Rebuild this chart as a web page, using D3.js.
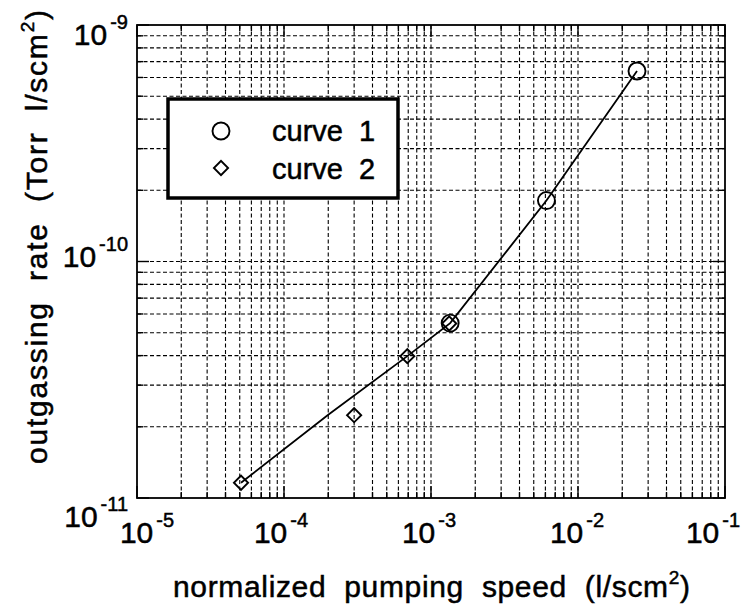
<!DOCTYPE html>
<html>
<head>
<meta charset="utf-8">
<script src="https://cdn.jsdelivr.net/npm/d3@7"></script>
<style>
  body { margin: 0; background: #fff; }
  text { font-family: "Liberation Sans", Arial, Helvetica, sans-serif; fill: #000; stroke: #000; stroke-width: 0.5px; }
</style>
</head>
<body>
<div id="chart"></div>
<script>
// values
const curve1X = [1.35e-3, 6.1e-3, 2.52e-2]
const curve1Y = [5.49e-11, 1.81e-10, 6.39e-10]
const curve2X = [5.1e-5, 3.0e-4, 6.9e-4, 1.33e-3]
const curve2Y = [1.16e-11, 2.24e-11, 3.98e-11, 5.47e-11]
const fitX = [5.1e-5, 2.0e-4, 6.9e-4, 1.35e-3, 6.1e-3, 2.52e-2]
const fitY = [1.16e-11, 2.25e-11, 3.98e-11, 5.49e-11, 1.81e-10, 6.39e-10]

const xTicks = [1e-5, 1e-4, 1e-3, 1e-2, 1e-1]
const xTickExp = ["-5", "-4", "-3", "-2", "-1"]
const yTicks = [1e-11, 1e-10, 1e-9]
const yTickExp = ["-11", "-10", "-9"]
const legendLabels = ["curve  1", "curve  2"]

const W = 748, H = 614
const plot = {left: 137, right: 725, top: 25, bottom: 498}

const svg = d3.select("#chart").append("svg")
    .attr("width", W)
    .attr("height", H)
    .attr("viewBox", [0, 0, W, H])

svg.append("rect").attr("width", W).attr("height", H).attr("fill", "#fff")

const x = d3.scaleLog().domain([1e-5, 1e-1]).range([plot.left, plot.right])
const y = d3.scaleLog().domain([1e-11, 1e-9]).range([plot.bottom, plot.top])

const isMajor = v => Math.abs(Math.log10(v) - Math.round(Math.log10(v))) < 1e-6

// grid (every minor value)
const grid = svg.append("g")
    .attr("stroke", "#000")
    .attr("stroke-width", 1.1)
    .attr("stroke-dasharray", "4,2.5")

grid.selectAll(".gx")
  .data(x.ticks().filter(v => v > 1e-5 && v < 1e-1))
  .join("line")
    .attr("class", "gx")
    .attr("x1", d => x(d)).attr("x2", d => x(d))
    .attr("y1", plot.top).attr("y2", plot.bottom)

grid.selectAll(".gy")
  .data(y.ticks().filter(v => v > 1e-11 && v < 1e-9))
  .join("line")
    .attr("class", "gy")
    .attr("y1", d => y(d)).attr("y2", d => y(d))
    .attr("x1", plot.left).attr("x2", plot.right)

// inward ticks on all four sides
const ticks = svg.append("g").attr("stroke", "#000").attr("stroke-width", 1.4)
const tl = d => isMajor(d) ? 12 : 6

x.ticks().forEach(d => {
  ticks.append("line").attr("x1", x(d)).attr("x2", x(d))
    .attr("y1", plot.bottom).attr("y2", plot.bottom - tl(d))
  ticks.append("line").attr("x1", x(d)).attr("x2", x(d))
    .attr("y1", plot.top).attr("y2", plot.top + tl(d))
})
y.ticks().forEach(d => {
  ticks.append("line").attr("y1", y(d)).attr("y2", y(d))
    .attr("x1", plot.left).attr("x2", plot.left + tl(d))
  ticks.append("line").attr("y1", y(d)).attr("y2", y(d))
    .attr("x1", plot.right).attr("x2", plot.right - tl(d))
})

// frame
svg.append("rect")
    .attr("x", plot.left).attr("y", plot.top)
    .attr("width", plot.right - plot.left)
    .attr("height", plot.bottom - plot.top)
    .attr("fill", "none")
    .attr("stroke", "#000")
    .attr("stroke-width", 1.8)

// tick labels: 10 with superscript exponent
const xShift = [10, -3, -2, -1, -12]
xTicks.forEach((v, i) => {
  const t = svg.append("text")
      .attr("x", x(v) + xShift[i])
      .attr("y", 543)
      .attr("text-anchor", "middle")
      .attr("font-size", 30)
  t.append("tspan").text("10")
  t.append("tspan").attr("dy", -16).attr("dx", 3).attr("font-size", 20).text(xTickExp[i])
})

const yShift = [29, 5, 20]
yTicks.forEach((v, i) => {
  const t = svg.append("text")
      .attr("x", 128)
      .attr("y", y(v) + yShift[i])
      .attr("text-anchor", "end")
      .attr("font-size", 30)
  t.append("tspan").text("10")
  t.append("tspan").attr("dy", -16).attr("dx", 3).attr("font-size", 20).text(yTickExp[i])
})

// axis titles
const xt = svg.append("text")
    .attr("x", 173).attr("y", 597)
    .attr("font-size", 30)
    .attr("textLength", 517)
    .attr("lengthAdjust", "spacing")
    .style("white-space", "pre")
xt.append("tspan").text("normalized  pumping  speed  (l/scm")
xt.append("tspan").attr("dy", -13).attr("font-size", 19).text("2")
xt.append("tspan").attr("dy", 13).text(")")

const yt = svg.append("text")
    .attr("transform", "translate(47,464) rotate(-90)")
    .attr("font-size", 30)
    .attr("textLength", 454)
    .attr("lengthAdjust", "spacing")
    .style("white-space", "pre")
yt.append("tspan").text("outgassing  rate  (Torr  l/scm")
yt.append("tspan").attr("dy", -13).attr("font-size", 19).text("2")
yt.append("tspan").attr("dy", 13).text(")")

// fitted line
const line = d3.line().x(d => x(d[0])).y(d => y(d[1]))
svg.append("path")
    .datum(d3.zip(fitX, fitY))
    .attr("d", line)
    .attr("fill", "none")
    .attr("stroke", "#000")
    .attr("stroke-width", 1.8)

// markers
const diamond = d3.symbol(d3.symbolSquare, 100)

svg.selectAll(".c1")
  .data(d3.zip(curve1X, curve1Y))
  .join("circle")
    .attr("class", "c1")
    .attr("cx", d => x(d[0]))
    .attr("cy", d => y(d[1]))
    .attr("r", 8.5)
    .attr("fill", "none")
    .attr("stroke", "#000")
    .attr("stroke-width", 1.9)

svg.selectAll(".c2")
  .data(d3.zip(curve2X, curve2Y))
  .join("path")
    .attr("class", "c2")
    .attr("d", diamond)
    .attr("transform", d => `translate(${x(d[0])},${y(d[1])}) rotate(45)`)
    .attr("fill", "none")
    .attr("stroke", "#000")
    .attr("stroke-width", 1.9)

// legend
const legend = svg.append("g")
legend.append("rect")
    .attr("x", 168).attr("y", 99)
    .attr("width", 230).attr("height", 99)
    .attr("fill", "#fff")
    .attr("stroke", "#000")
    .attr("stroke-width", 3.5)

legend.append("circle")
    .attr("cx", 221).attr("cy", 131).attr("r", 8.5)
    .attr("fill", "none").attr("stroke", "#000").attr("stroke-width", 1.9)
legend.append("path")
    .attr("d", diamond)
    .attr("transform", "translate(221,168) rotate(45)")
    .attr("fill", "none").attr("stroke", "#000").attr("stroke-width", 1.9)

legend.selectAll(".lt")
  .data(legendLabels)
  .join("text")
    .attr("class", "lt")
    .attr("x", 272)
    .attr("y", (d, i) => 141 + i * 38)
    .attr("font-size", 29)
    .style("white-space", "pre")
    .text(d => d)
</script>
</body>
</html>
